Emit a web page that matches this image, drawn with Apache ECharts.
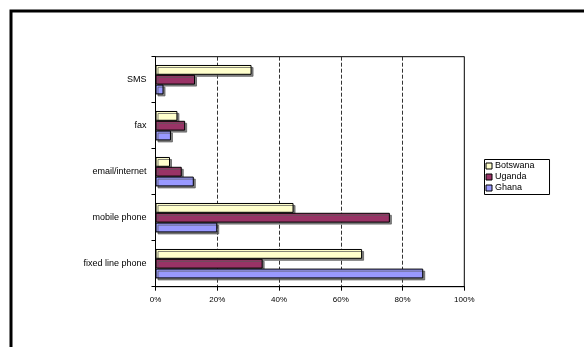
<!DOCTYPE html>
<html>
<head>
<meta charset="utf-8">
<script src="https://cdn.jsdelivr.net/npm/echarts@6/dist/echarts.min.js"></script>
<style>
  html, body { margin: 0; padding: 0; background: #fff; }
  #chart { width: 584px; height: 347px; }
</style>
</head>
<body>
<div id="chart"></div>
<script>
// Communication channels used, share of respondents (%) by country
const categories = ['fixed line phone', 'mobile phone', 'email/internet', 'fax', 'SMS'];
const botswana = [66.9, 44.7, 4.7, 7.1, 31.1];
const uganda   = [34.7, 75.9, 8.5, 9.6, 12.8];
const ghana    = [86.7, 20.0, 12.4, 5.0, 2.6];
const xTicks = [0, 20, 40, 60, 80, 100];

const FONT = '"Liberation Sans", Arial, sans-serif';

function barSeries(name, data, color) {
  return {
    name: name,
    type: 'bar',
    data: data,
    barGap: '0%',
    barCategoryGap: '36%',
    itemStyle: {
      color: color,
      borderColor: '#000',
      borderWidth: 1,
      shadowColor: 'rgba(90,90,90,0.75)',
      shadowBlur: 0,
      shadowOffsetX: 2,
      shadowOffsetY: 2
    },
    emphasis: { disabled: true }
  };
}

const chart = echarts.init(document.getElementById('chart'), null, { renderer: 'canvas' });
chart.setOption({
  animation: false,
  backgroundColor: '#fff',
  textStyle: { fontFamily: FONT },
  graphic: [{
    type: 'rect',
    shape: { x: 11, y: 11, width: 620, height: 400 },
    style: { fill: 'none', stroke: '#000', lineWidth: 3 },
    silent: true,
    z: 100
  }],
  grid: {
    left: 155.5, right: 119.7, top: 56.7, bottom: 60.3,
    show: true, borderColor: '#000', borderWidth: 1, backgroundColor: '#fff'
  },
  legend: {
    orient: 'vertical',
    left: 484.5, top: 159.5,
    padding: [2, 15, 2, 1],
    itemGap: 2,
    itemWidth: 6, itemHeight: 6,
    icon: 'rect',
    borderColor: '#000', borderWidth: 1,
    backgroundColor: '#fff',
    itemStyle: { borderColor: '#000', borderWidth: 1, shadowBlur: 0, shadowOffsetX: 0, shadowOffsetY: 0 },
    textStyle: { fontSize: 9, lineHeight: 8, color: '#000', fontFamily: FONT, padding: [0, 0, 0, -2] },
    data: ['Botswana', 'Uganda', 'Ghana']
  },
  xAxis: {
    type: 'value',
    min: xTicks[0], max: xTicks[xTicks.length - 1], interval: 20,
    axisLine: { show: true, lineStyle: { color: '#000', width: 1 } },
    axisTick: { show: true, length: 4, lineStyle: { color: '#000' } },
    axisLabel: { formatter: '{value}%', fontSize: 8, color: '#000', margin: 9, fontFamily: FONT },
    splitLine: { show: true, lineStyle: { color: '#333', type: [4, 2], width: 1 } }
  },
  yAxis: {
    type: 'category',
    data: categories,
    axisLine: { show: true, lineStyle: { color: '#000', width: 1 } },
    axisTick: { show: true, length: 4, lineStyle: { color: '#000' } },
    axisLabel: { fontSize: 9, color: '#000', margin: 9, fontFamily: FONT },
    splitLine: { show: false }
  },
  series: [
    barSeries('Botswana', botswana, '#FFFFCC'),
    barSeries('Uganda', uganda, '#993366'),
    barSeries('Ghana', ghana, '#9999FF')
  ]
});
</script>
</body>
</html>
